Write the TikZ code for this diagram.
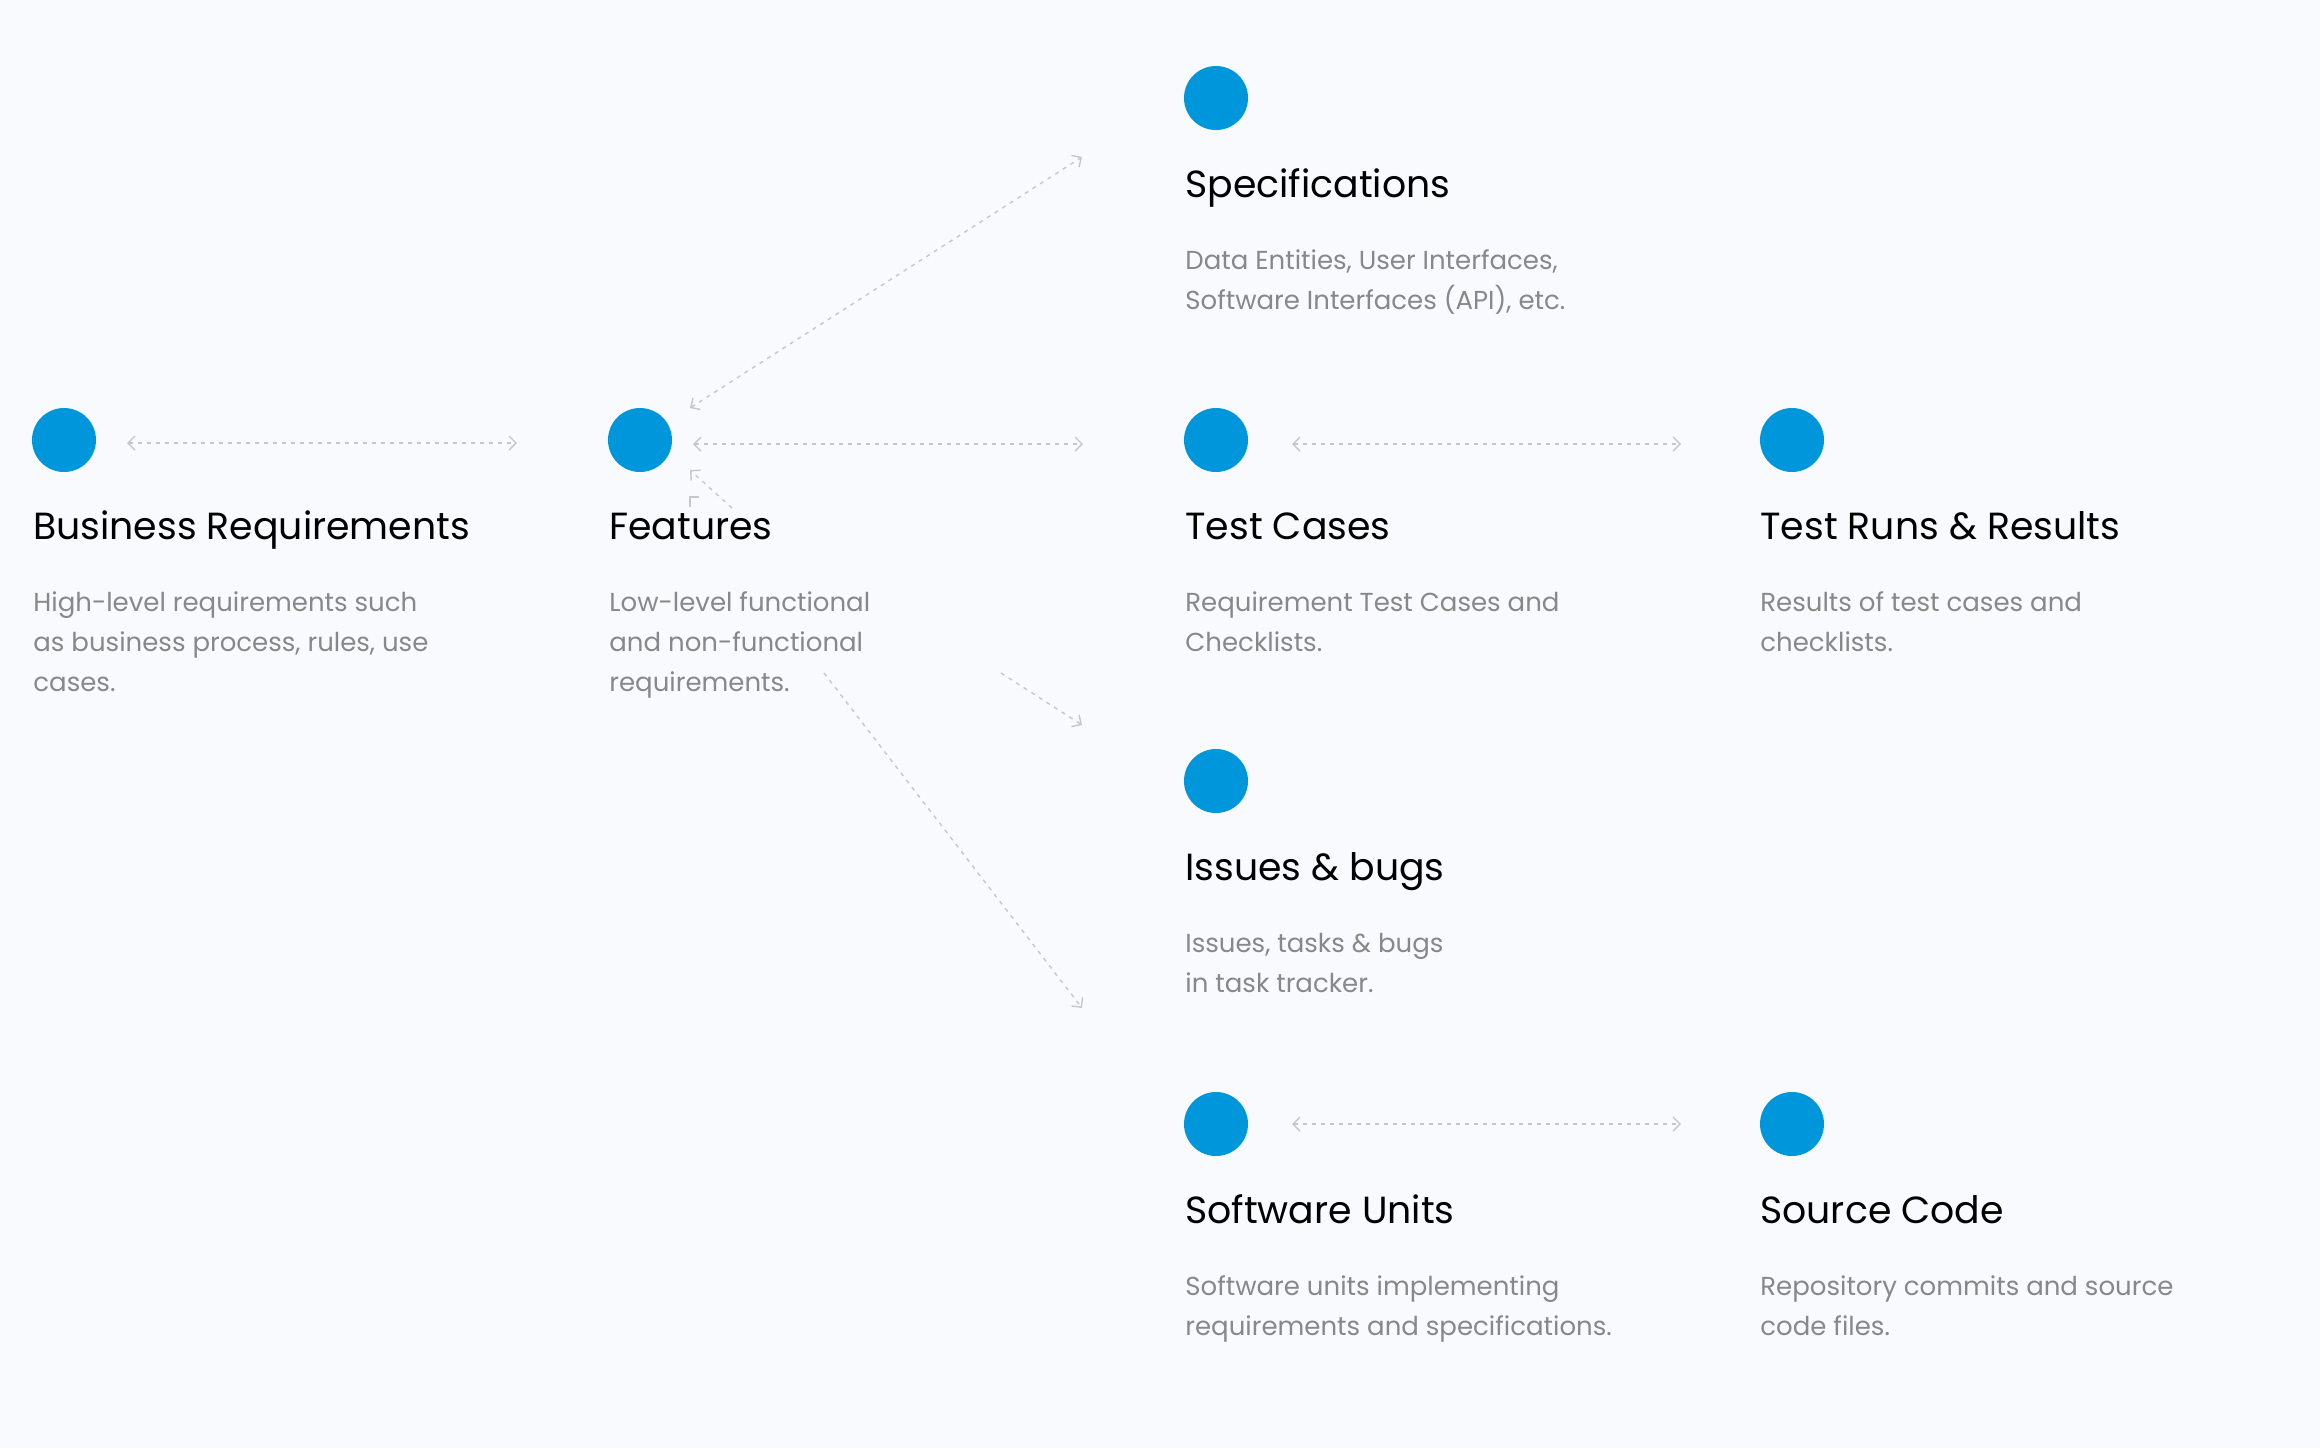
\documentclass[tikz,border=0pt]{standalone}
\usepackage{fontspec}
\setmainfont{Poppins}
\usetikzlibrary{arrows.meta}
\definecolor{pagebg}{RGB}{249,250,254}
\definecolor{dotblue}{RGB}{0,150,220}
\definecolor{desctext}{RGB}{136,136,136}
\definecolor{linkgray}{RGB}{198,198,204}
\begin{document}
\begin{tikzpicture}[x=0.5pt,y=-0.5pt,
        bluedot/.style={circle,fill=dotblue,inner sep=0pt,minimum size=32pt},
        itemtitle/.style={anchor=base west,inner sep=0pt,font=\fontsize{18.9}{22}\selectfont},
        itemtext/.style={anchor=base west,inner sep=0pt,align=left,text=desctext,
            font=\fontsize{13}{20}\selectfont},
        link/.style={draw=linkgray,line width=0.7pt,dash pattern=on 2pt off 2.5pt},
        linkboth/.style={link,{Straight Barb[length=3.5pt,width=7pt]}-{Straight Barb[length=3.5pt,width=7pt]}},
        linkto/.style={link,-{Straight Barb[length=3.5pt,width=7pt]}}]
    \fill[pagebg] (0,0) rectangle (2320,1448);
    \useasboundingbox (0,0) rectangle (2320,1448);
    % first column (texts anchored on their last line)
    \node[bluedot] (br) at (64,440) {};
    \node[itemtitle] (br-t) at (33,539) {Business Requirements};
    \node[itemtext] (br-d) at (33,691) {High-level requirements such\\as business process, rules, use\\cases.};
    % second column
    \node[bluedot] (feat) at (640,440) {};
    \node[itemtitle] (feat-t) at (609,539) {Features};
    \node[itemtext] (feat-d) at (609,691) {Low-level functional\\and non-functional\\requirements.};
    % third column
    \node[bluedot] (spec) at (1216,98) {};
    \node[itemtitle] (spec-t) at (1185,197) {Specifications};
    \node[itemtext] (spec-d) at (1185,309) {Data Entities, User Interfaces,\\Software Interfaces (API), etc.};
    \node[bluedot] (tc) at (1216,440) {};
    \node[itemtitle] (tc-t) at (1185,539) {Test Cases};
    \node[itemtext] (tc-d) at (1185,651) {Requirement Test Cases and\\Checklists.};
    \node[bluedot] (ib) at (1216,781) {};
    \node[itemtitle] (ib-t) at (1185,880) {Issues \& bugs};
    \node[itemtext] (ib-d) at (1185,992) {Issues, tasks \& bugs\\in task tracker.};
    \node[bluedot] (su) at (1216,1124) {};
    \node[itemtitle] (su-t) at (1185,1223) {Software Units};
    \node[itemtext] (su-d) at (1185,1335) {Software units implementing\\requirements and specifications.};
    % fourth column
    \node[bluedot] (tr) at (1792,440) {};
    \node[itemtitle] (tr-t) at (1760,539) {Test Runs \& Results};
    \node[itemtext] (tr-d) at (1760,651) {Results of test cases and\\checklists.};
    \node[bluedot] (sc) at (1792,1124) {};
    \node[itemtitle] (sc-t) at (1760,1223) {Source Code};
    \node[itemtext] (sc-d) at (1760,1335) {Repository commits and source\\code files.};
    % link ends
    \coordinate (br-e) at (127,443);
    \coordinate (feat-w) at (517,443);
    \coordinate (feat-e) at (693,444);
    \coordinate (tc-w) at (1083,444);
    \coordinate (tc-e) at (1292,444);
    \coordinate (tr-w) at (1681,444);
    \coordinate (su-e) at (1292,1124);
    \coordinate (sc-w) at (1681,1124);
    \coordinate (feat-ne) at (690,408);
    \coordinate (spec-sw) at (1082,157);
    \coordinate (feat-se) at (732,508);
    \coordinate (feat-in) at (690,470);
    \coordinate (feat-s1) at (1001,673);
    \coordinate (ib-w) at (1082,725);
    \coordinate (feat-s2) at (824,673);
    \coordinate (su-nw) at (1082,1008);
    % links
    \draw[linkboth] (br-e) -- (feat-w);
    \draw[linkboth] (feat-e) -- (tc-w);
    \draw[linkboth] (tc-e) -- (tr-w);
    \draw[linkboth] (su-e) -- (sc-w);
    \draw[linkboth] (feat-ne) -- (spec-sw);
    \draw[linkto] (feat-se) -- (feat-in);
    \draw[linkto] (feat-s1) -- (ib-w);
    \draw[linkto] (feat-s2) -- (su-nw);
    \draw[linkgray,line width=0.7pt] (699,497) -- (690,497) -- (690,507);
\end{tikzpicture}
\end{document}
